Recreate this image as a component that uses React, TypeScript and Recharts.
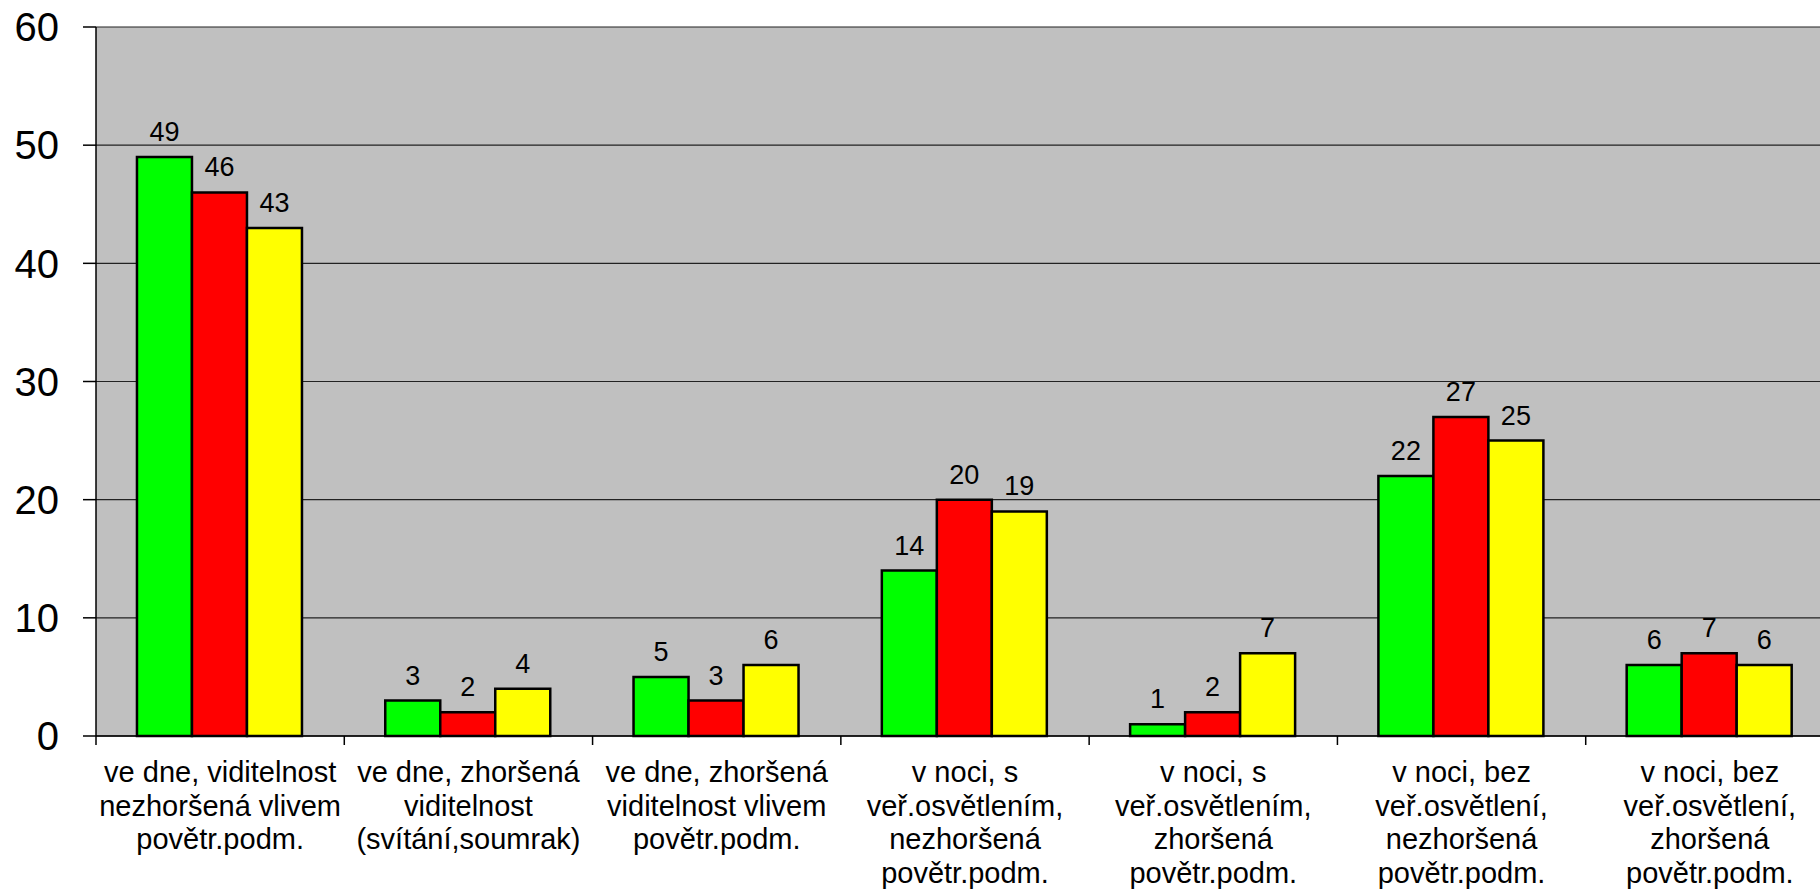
import React from 'react';
import { BarChart, Bar, XAxis, YAxis, CartesianGrid, LabelList } from 'recharts';

const categories = [
  've dne, viditelnost\nnezhoršená vlivem\npovětr.podm.',
  've dne, zhoršená\nviditelnost\n(svítání,soumrak)',
  've dne, zhoršená\nviditelnost vlivem\npovětr.podm.',
  'v noci, s\nveř.osvětlením,\nnezhoršená\npovětr.podm.',
  'v noci, s\nveř.osvětlením,\nzhoršená\npovětr.podm.',
  'v noci, bez\nveř.osvětlení,\nnezhoršená\npovětr.podm.',
  'v noci, bez\nveř.osvětlení,\nzhoršená\npovětr.podm.',
];

const seriesA = [49, 3, 5, 14, 1, 22, 6];
const seriesB = [46, 2, 3, 20, 2, 27, 7];
const seriesC = [43, 4, 6, 19, 7, 25, 6];

const yTicks = [0, 10, 20, 30, 40, 50, 60];

const data = categories.map((name, i) => ({
  name,
  a: seriesA[i],
  b: seriesB[i],
  c: seriesC[i],
}));

const W = 1850;
const H = 890;
const LEFT = 96;
const RIGHT = 16;
const band = (W - LEFT - RIGHT) / categories.length;
const font = "Arial, 'Liberation Sans', sans-serif";

function CategoryTick(props: any) {
  const { x, y, payload } = props;
  const lines = String(payload.value).split('\n');
  return (
    <g>
      <line x1={x - band / 2} y1={y} x2={x - band / 2} y2={y + 9} stroke="#000" strokeWidth={1.5} />
      <text textAnchor="middle" fontSize={29} fontFamily={font} fill="#000">
        {lines.map((l, i) => (
          <tspan key={i} x={x} y={y + 46 + i * 33.5}>
            {l}
          </tspan>
        ))}
      </text>
    </g>
  );
}

const labelStyle = { fill: '#000', fontSize: 27, fontFamily: font };

export default function App() {
  return (
    <div style={{ position: 'fixed', left: 0, top: 0, width: 1820, height: 890, overflow: 'hidden', background: '#fff', fontFamily: font }}>
      <BarChart
        width={W}
        height={H}
        data={data}
        margin={{ top: 27, right: RIGHT, bottom: 0, left: 0 }}
        barCategoryGap="16.5%"
        barGap={0}
      >
        <CartesianGrid vertical={false} fill="#C0C0C0" stroke="#222" strokeWidth={1.2} fillOpacity={1} />
        <XAxis
          dataKey="name"
          height={154}
          tickSize={0}
          tickMargin={0}
          tickLine={false}
          axisLine={{ stroke: '#000', strokeWidth: 1.5 }}
          tick={<CategoryTick />}
          interval={0}
        />
        <YAxis
          width={LEFT}
          domain={[0, 60]}
          ticks={yTicks}
          tickSize={13}
          tickMargin={24}
          axisLine={{ stroke: '#000', strokeWidth: 1.5 }}
          tickLine={{ stroke: '#000', strokeWidth: 1.5 }}
          tick={{ fill: '#000', fontSize: 40, fontFamily: font }}
          allowDecimals={false}
        />
        <Bar dataKey="a" fill="#00FF00" stroke="#000" strokeWidth={2.5} isAnimationActive={false}>
          <LabelList dataKey="a" position="top" offset={16} style={labelStyle} />
        </Bar>
        <Bar dataKey="b" fill="#FF0000" stroke="#000" strokeWidth={2.5} isAnimationActive={false}>
          <LabelList dataKey="b" position="top" offset={16} style={labelStyle} />
        </Bar>
        <Bar dataKey="c" fill="#FFFF00" stroke="#000" strokeWidth={2.5} isAnimationActive={false}>
          <LabelList dataKey="c" position="top" offset={16} style={labelStyle} />
        </Bar>
      </BarChart>
    </div>
  );
}
